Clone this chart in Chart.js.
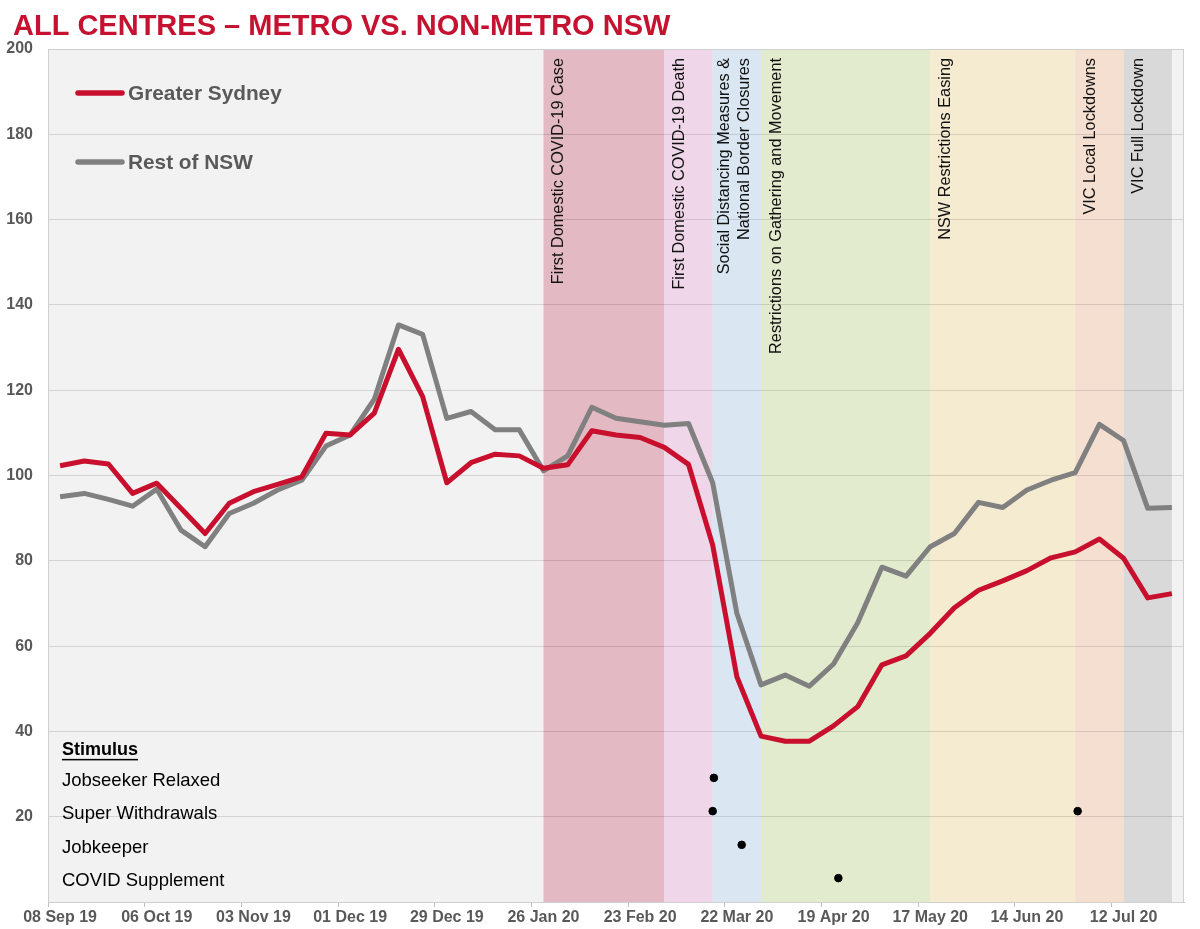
<!DOCTYPE html>
<html>
<head>
<meta charset="utf-8">
<script src="https://cdn.jsdelivr.net/npm/chart.js@4/dist/chart.umd.min.js"></script>
<style>
  html, body { margin: 0; padding: 0; background: #fff; }
  #wrap { width: 1200px; height: 929px; position: relative; }
</style>
</head>
<body>
<div id="wrap"><canvas id="chart" width="1200" height="929"></canvas></div>
<script>
const weeks = [
  '08 Sep 19', '15 Sep 19', '22 Sep 19', '29 Sep 19',
  '06 Oct 19', '13 Oct 19', '20 Oct 19', '27 Oct 19',
  '03 Nov 19', '10 Nov 19', '17 Nov 19', '24 Nov 19',
  '01 Dec 19', '08 Dec 19', '15 Dec 19', '22 Dec 19', '29 Dec 19',
  '05 Jan 20', '12 Jan 20', '19 Jan 20', '26 Jan 20',
  '02 Feb 20', '09 Feb 20', '16 Feb 20', '23 Feb 20',
  '01 Mar 20', '08 Mar 20', '15 Mar 20', '22 Mar 20', '29 Mar 20',
  '05 Apr 20', '12 Apr 20', '19 Apr 20', '26 Apr 20',
  '03 May 20', '10 May 20', '17 May 20', '24 May 20', '31 May 20',
  '07 Jun 20', '14 Jun 20', '21 Jun 20', '28 Jun 20',
  '05 Jul 20', '12 Jul 20', '19 Jul 20', '26 Jul 20'
];

const tickLabels = ['08 Sep 19', '06 Oct 19', '03 Nov 19', '01 Dec 19', '29 Dec 19', '26 Jan 20',
  '23 Feb 20', '22 Mar 20', '19 Apr 20', '17 May 20', '14 Jun 20', '12 Jul 20'];

const greaterSydney = [
  102.3, 103.4, 102.7, 95.8, 98.2, 92.3, 86.4, 93.5, 96.2, 97.9, 99.7, 109.9,
  109.5, 114.6, 129.6, 118.5, 98.3, 103.0, 105.0, 104.6, 101.7, 102.5, 110.5, 109.5,
  108.9, 106.6, 102.6, 83.7, 52.8, 38.9, 37.7, 37.7, 41.3, 45.8, 55.6, 57.7,
  63.0, 69.0, 73.1, 75.3, 77.7, 80.7, 82.1, 85.1, 80.6, 71.3, 72.3
];

const restOfNsw = [
  95.0, 95.8, 94.4, 92.8, 96.8, 87.2, 83.3, 91.1, 93.5, 96.6, 98.9, 106.9,
  109.5, 117.9, 135.3, 133.1, 113.4, 115.0, 110.7, 110.7, 101.1, 104.6, 116.0, 113.4,
  112.6, 111.8, 112.2, 98.3, 67.7, 50.9, 53.2, 50.6, 55.8, 65.5, 78.5, 76.4,
  83.3, 86.4, 93.7, 92.5, 96.6, 98.9, 100.7, 112.0, 108.2, 92.3, 92.5
];

// shaded periods: label lines, start week, end week, fill
const periodLabels = [
  ['First Domestic COVID-19 Case'],
  ['First Domestic COVID-19 Death'],
  ['Social Distancing Measures &', 'National Border Closures'],
  ['Restrictions on Gathering and Movement'],
  ['NSW Restrictions Easing'],
  ['VIC Local Lockdowns'],
  ['VIC Full Lockdown']
];
const periodStart = ['26 Jan 20', '01 Mar 20', '15 Mar 20', '29 Mar 20', '17 May 20', '28 Jun 20', '12 Jul 20'];
const periodEnd = ['01 Mar 20', '15 Mar 20', '29 Mar 20', '17 May 20', '28 Jun 20', '12 Jul 20', '26 Jul 20'];
const periodColors = ['#e3b9c3', '#efd6e8', '#dae7f3', '#e2ebcd', '#f5ebd0', '#f5dfd1', '#d9d9d9'];

// stimulus rows (y value of each row) and events (week position, row)
const stimulusNames = ['Jobseeker Relaxed', 'Super Withdrawals', 'Jobkeeper', 'COVID Supplement'];
const stimulusRows = [29.1, 21.3, 13.4, 5.6];
const stimulusEvents = [
  { x: 27.05, y: 29.1 },
  { x: 27.0, y: 21.3 },
  { x: 42.1, y: 21.3 },
  { x: 28.2, y: 13.4 },
  { x: 32.2, y: 5.6 }
];

const RED = '#c8102e';
const GREY = '#808080';
const FONT = '"Liberation Sans", Arial, sans-serif';

const decorPlugin = {
  id: 'decor',
  beforeDraw(chart) {
    const { ctx, chartArea: a, scales: { x } } = chart;
    ctx.save();
    ctx.fillStyle = '#f2f2f2';
    ctx.fillRect(a.left, a.top, a.right - a.left, a.bottom - a.top);
    periodStart.forEach((s, i) => {
      const x0 = x.getPixelForValue(weeks.indexOf(s));
      const x1 = x.getPixelForValue(weeks.indexOf(periodEnd[i]));
      ctx.fillStyle = periodColors[i];
      ctx.fillRect(x0, a.top, x1 - x0, a.bottom - a.top);
    });
    ctx.restore();
  },
  beforeDatasetsDraw(chart) {
    const { ctx, chartArea: a, scales: { x } } = chart;
    ctx.save();
    ctx.strokeStyle = '#d0d0d0';
    ctx.lineWidth = 1;
    ctx.strokeRect(a.left + 0.5, a.top + 0.5, a.right - a.left - 1, a.bottom - a.top);
    ctx.fillStyle = '#111';
    ctx.font = '16.3px ' + FONT;
    ctx.textAlign = 'right';
    ctx.textBaseline = 'middle';
    periodLabels.forEach((lines, i) => {
      const x0 = x.getPixelForValue(weeks.indexOf(periodStart[i]));
      lines.forEach((t, j) => {
        ctx.save();
        ctx.translate(x0 + (lines.length > 1 ? 12 : 15) + j * 20, a.top + 9);
        ctx.rotate(-Math.PI / 2);
        ctx.fillText(t, 0, 0);
        ctx.restore();
      });
    });
    ctx.restore();
  },
  afterDraw(chart) {
    const { ctx, scales: { y } } = chart;
    ctx.save();
    // title
    ctx.fillStyle = '#c41230';
    ctx.font = 'bold 29px ' + FONT;
    ctx.textBaseline = 'alphabetic';
    ctx.textAlign = 'left';
    ctx.fillText('ALL CENTRES \u2013 METRO VS. NON-METRO NSW', 13, 35);

    // legend
    const legend = [['Greater Sydney', RED, 93], ['Rest of NSW', GREY, 162]];
    legend.forEach(([name, col, ly]) => {
      ctx.strokeStyle = col;
      ctx.lineWidth = 5.5;
      ctx.lineCap = 'round';
      ctx.beginPath();
      ctx.moveTo(78, ly);
      ctx.lineTo(122, ly);
      ctx.stroke();
      ctx.fillStyle = '#595959';
      ctx.font = 'bold 20.8px ' + FONT;
      ctx.textBaseline = 'middle';
      ctx.fillText(name, 128, ly + 1);
    });

    // stimulus block
    ctx.fillStyle = '#000';
    ctx.font = 'bold 18px ' + FONT;
    ctx.textBaseline = 'middle';
    const sy = y.getPixelForValue(stimulusRows[0]) - 28;
    ctx.fillText('Stimulus', 62, sy);
    const w = ctx.measureText('Stimulus').width;
    ctx.fillRect(62, sy + 9, w, 1.5);
    ctx.font = '18.5px ' + FONT;
    stimulusNames.forEach((n, i) => {
      ctx.fillText(n, 62, y.getPixelForValue(stimulusRows[i]) + 3);
    });
    ctx.restore();
  }
};

new Chart(document.getElementById('chart'), {
  type: 'line',
  data: {
    labels: weeks,
    datasets: [
      {
        label: 'Greater Sydney',
        data: greaterSydney,
        borderColor: RED,
        borderWidth: 5,
        pointRadius: 0,
        tension: 0,
        borderJoinStyle: 'round',
        fill: false
      },
      {
        label: 'Rest of NSW',
        data: restOfNsw,
        borderColor: GREY,
        borderWidth: 5,
        pointRadius: 0,
        tension: 0,
        borderJoinStyle: 'round',
        fill: false
      },
      {
        type: 'scatter',
        label: 'Stimulus',
        data: stimulusEvents,
        xAxisID: 'x2',
        backgroundColor: '#000',
        borderColor: '#000',
        pointRadius: 3.8,
        showLine: false
      }
    ]
  },
  options: {
    responsive: false,
    animation: false,
    layout: { padding: { top: 49, right: 16, bottom: 0, left: 0 } },
    plugins: { legend: { display: false }, tooltip: { enabled: false }, title: { display: false } },
    scales: {
      x: {
        type: 'category',
        offset: true,
        afterFit(scale) { scale.height = 27; },
        grid: {
          offset: true,
          drawOnChartArea: false,
          tickLength: 5,
          color: (c) => (c.index % 4 === 0 ? '#bfbfbf' : 'rgba(0,0,0,0)')
        },
        border: { color: '#c8c8c8' },
        ticks: {
          autoSkip: false,
          maxRotation: 0,
          padding: 1,
          color: '#595959',
          font: { family: FONT, size: 16, weight: 'bold' },
          callback(v, i) { return tickLabels.includes(weeks[i]) ? weeks[i] : ''; }
        }
      },
      x2: {
        type: 'linear',
        display: false,
        min: -0.5,
        max: weeks.length - 0.5
      },
      y: {
        min: 0,
        max: 200,
        afterFit(scale) { scale.width = 48; },
        grid: { color: 'rgba(0,0,0,0.12)', drawTicks: false },
        border: { display: false },
        ticks: {
          stepSize: 20,
          padding: 15,
          color: '#595959',
          font: { family: FONT, size: 16, weight: 'bold' },
          callback(v) { return v === 0 ? '' : v; }
        }
      }
    }
  },
  plugins: [decorPlugin]
});
</script>
</body>
</html>
